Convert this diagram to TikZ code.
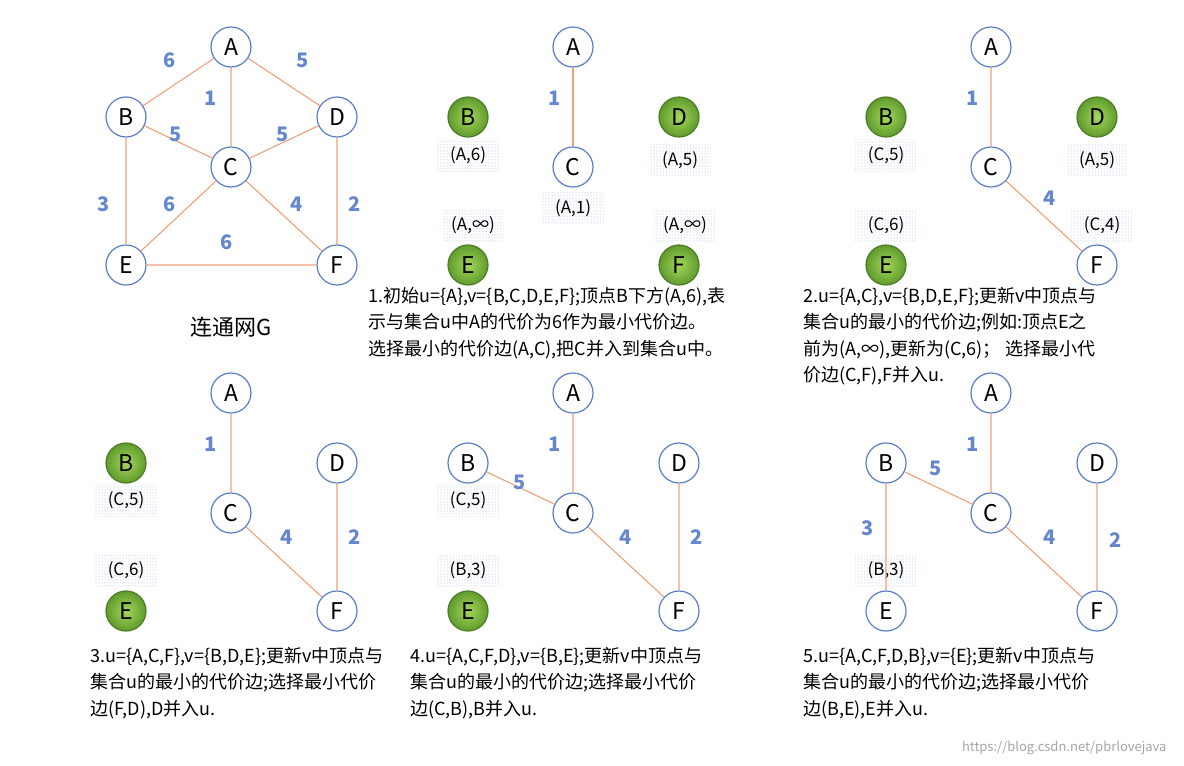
\documentclass[tikz,border=0pt]{standalone}
\usepackage{fontspec}
\setmainfont{Noto Sans CJK SC}
\usetikzlibrary{patterns}
\definecolor{ring}{RGB}{90,125,200}
\definecolor{edgec}{RGB}{240,160,120}
\definecolor{wt}{RGB}{100,135,205}
\definecolor{gin}{RGB}{165,215,90}
\definecolor{gout}{RGB}{95,155,45}
\definecolor{dotc}{RGB}{150,180,215}
\tikzset{
 vx/.style={circle,draw=ring,line width=1.2pt,fill=white,minimum size=40pt,inner sep=0pt,font=\fontsize{23}{23}\selectfont},
 gv/.style={vx,draw=gout!80!black,inner color=gin,outer color=gout},
 ed/.style={draw=edgec,line width=1.1pt},
 wl/.style={text=wt,font=\bfseries\fontsize{20}{20}\selectfont},
 lab/.style={pattern=dots,pattern color=dotc,inner sep=4pt,minimum width=62pt,minimum height=32pt,font=\fontsize{17}{17}\selectfont},
 para/.style={anchor=north west,align=left,font=\fontsize{18}{26.5}\selectfont,inner sep=0pt},
}
\newcommand{\mkpanel}[9]{%
 \node[#4] (#1A) at (231+#2,47+#3) {A};
 \node[#5] (#1B) at (126+#2,117+#3) {B};
 \node[#6] (#1D) at (337+#2,117+#3) {D};
 \node[#7] (#1C) at (231+#2,167+#3) {C};
 \node[#8] (#1E) at (126+#2,265+#3) {E};
 \node[#9] (#1F) at (337+#2,265+#3) {F};}
\begin{document}
\begin{tikzpicture}[x=1pt,y=-1pt]
\useasboundingbox (0,0) rectangle (1184,766);
\fill[white] (0,0) rectangle (1184,766);
% panel 0
\mkpanel{p}{0}{0}{vx}{vx}{vx}{vx}{vx}{vx}
\path[ed] (pA)--(pB) (pA)--(pC) (pA)--(pD) (pB)--(pC) (pC)--(pD) (pB)--(pE) (pC)--(pE) (pC)--(pF) (pD)--(pF) (pE)--(pF);
\node[wl] at (170,60) {6};
\node[wl] at (303,60) {5};
\node[wl] at (211,98) {1};
\node[wl] at (176,134) {5};
\node[wl] at (283,134) {5};
\node[wl] at (104,204) {3};
\node[wl] at (170,204) {6};
\node[wl] at (297,204) {4};
\node[wl] at (355,204) {2};
\node[wl] at (227,242) {6};
\node[font=\fontsize{22}{22}\selectfont] (cap) at (231,327) {连通网G};
% panel 1
\node[lab] (l1a) at (468,155) {(A,6)};
\node[lab] (l1b) at (680,160) {(A,5)};
\node[lab] (l1c) at (573,208) {(A,1)};
\node[lab] (l1d) at (473,225) {(A,∞)};
\node[lab] (l1e) at (685,225) {(A,∞)};
\mkpanel{q}{342}{0}{vx}{gv}{gv}{vx}{gv}{gv}
\path[ed] (qA)--(qC);
\node[wl] at (555,98) {1};
\node[para] (t1) at (368,287) {1.初始u=\{A\},v=\{B,C,D,E,F\};顶点B下方(A,6),表\\示与集合u中A的代价为6作为最小代价边。\\选择最小的代价边(A,C),把C并入到集合u中。};
% panel 2
\node[lab] (l2a) at (886,155) {(C,5)};
\node[lab] (l2b) at (1097,160) {(A,5)};
\node[lab] (l2c) at (886,225) {(C,6)};
\node[lab] (l2d) at (1102,225) {(C,4)};
\mkpanel{r}{760}{0}{vx}{gv}{gv}{vx}{gv}{vx}
\path[ed] (rA)--(rC) (rC)--(rF);
\node[wl] at (973,98) {1};
\node[wl] at (1050,198) {4};
\node[para] (t2) at (803,287) {2.u=\{A,C\},v=\{B,D,E,F\};更新v中顶点与\\集合u的最小的代价边;例如:顶点E之\\前为(A,∞),更新为(C,6)； 选择最小代\\价边(C,F),F并入u.};
% panel 3
\node[lab] (l3a) at (126,500) {(C,5)};
\node[lab] (l3b) at (126,570) {(C,6)};
\mkpanel{s}{0}{346}{vx}{gv}{vx}{vx}{gv}{vx}
\path[ed] (sA)--(sC) (sC)--(sF) (sD)--(sF);
\node[wl] at (211,444) {1};
\node[wl] at (287,537) {4};
\node[wl] at (355,537) {2};
\node[para] (t3) at (90,647) {3.u=\{A,C,F\},v=\{B,D,E\};更新v中顶点与\\集合u的最小的代价边;选择最小代价\\边(F,D),D并入u.};
% panel 4
\node[lab] (l4a) at (468,500) {(C,5)};
\node[lab] (l4b) at (468,570) {(B,3)};
\mkpanel{w}{342}{346}{vx}{vx}{vx}{vx}{gv}{vx}
\path[ed] (wA)--(wC) (wB)--(wC) (wC)--(wF) (wD)--(wF);
\node[wl] at (555,444) {1};
\node[wl] at (520,482) {5};
\node[wl] at (626,537) {4};
\node[wl] at (697,537) {2};
\node[para] (t4) at (410,647) {4.u=\{A,C,F,D\},v=\{B,E\};更新v中顶点与\\集合u的最小的代价边;选择最小代价\\边(C,B),B并入u.};
% panel 5
\node[lab] (l5a) at (886,570) {(B,3)};
\mkpanel{z}{760}{346}{vx}{vx}{vx}{vx}{vx}{vx}
\path[ed] (zA)--(zC) (zB)--(zC) (zC)--(zF) (zD)--(zF) (zB)--(zE);
\node[wl] at (973,444) {1};
\node[wl] at (936,468) {5};
\node[wl] at (868,528) {3};
\node[wl] at (1050,537) {4};
\node[wl] at (1116,540) {2};
\node[para] (t5) at (803,647) {5.u=\{A,C,F,D,B\},v=\{E\};更新v中顶点与\\集合u的最小的代价边;选择最小代价\\边(B,E),E并入u.};
\node[anchor=east,text=gray!70,font=\fontsize{13}{13}\selectfont] (wm) at (1170,748) {https://blog.csdn.net/pbrlovejava};
\end{tikzpicture}
\end{document}
